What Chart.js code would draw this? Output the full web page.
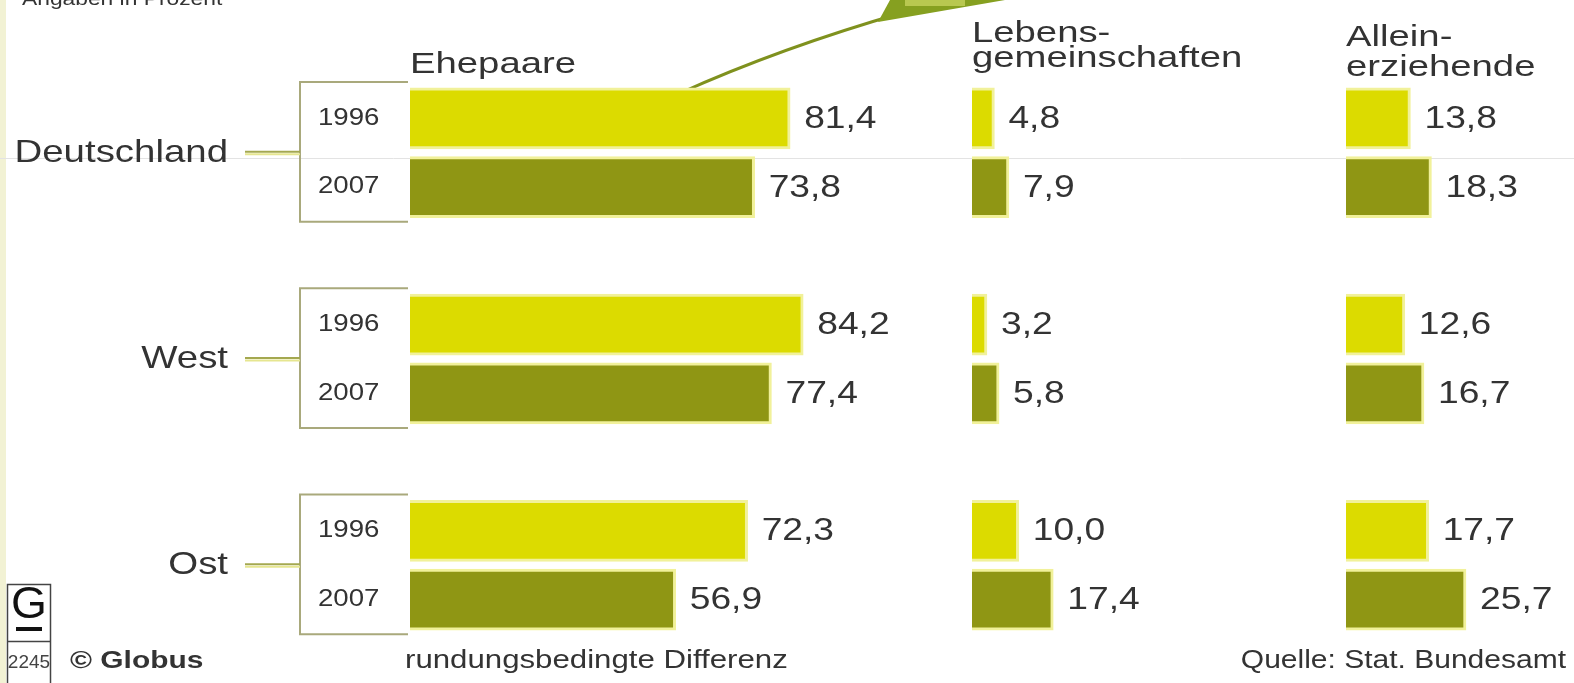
<!DOCTYPE html>
<html>
<head>
<meta charset="utf-8">
<script src="https://cdn.jsdelivr.net/npm/chart.js@4.4.0/dist/chart.umd.min.js"></script>
<style>
  html, body { margin: 0; background: #fff; }
  #wrap { width: 1574px; height: 683px; position: relative; }
</style>
</head>
<body>
<div id="wrap"><canvas id="chart"></canvas></div>
<script>
// rows: year per bar, empty rows are the gaps between the regions
const ROWS = ['1996', '2007', '', '1996', '2007', '', '1996', '2007'];
const REGIONS = ['Deutschland', 'West', 'Ost'];
const EHEPAARE = [81.4, 73.8, null, 84.2, 77.4, null, 72.3, 56.9];
const LEBENSGEMEINSCHAFTEN = [4.8, 7.9, null, 3.2, 5.8, null, 10.0, 17.4];
const ALLEINERZIEHENDE = [13.8, 18.3, null, 12.6, 16.7, null, 17.7, 25.7];
const HEADERS = [['Ehepaare'], ['Lebens-', 'gemeinschaften'], ['Allein-', 'erziehende']];

const YELLOW = '#dcdb00';
const OLIVE = '#8f9614';
const WIDTH = 1574;
const PANEL_X = [410, 972, 1346];   // pixel where each panel's bars start
const PX_PER_UNIT = 4.67;
const STRETCH = 1.2;                // the original lettering is set wide
const FONT = '"Liberation Sans", Arial, sans-serif';

function text(ctx, str, x, y, size, opts = {}) {
  ctx.save();
  ctx.font = (opts.bold ? 'bold ' : '') + size + 'px ' + FONT;
  ctx.fillStyle = opts.color || '#333';
  ctx.textBaseline = opts.baseline || 'middle';
  ctx.textAlign = opts.align || 'left';
  ctx.translate(x, y);
  ctx.scale(opts.stretch || STRETCH, 1);
  ctx.fillText(str, 0, 0);
  ctx.restore();
}

function fmt(v) {
  return v.toFixed(1).replace('.', ',');
}

const rowColors = ROWS.map(r => r === '1996' ? YELLOW : OLIVE);

function panelScale(i) {
  return {
    type: 'linear',
    display: false,
    min: -PANEL_X[i] / PX_PER_UNIT,
    max: (WIDTH - PANEL_X[i]) / PX_PER_UNIT
  };
}

const decorations = {
  id: 'decorations',
  beforeDraw(chart) {
    const ctx = chart.ctx;
    const y = chart.scales.y;
    ctx.save();
    ctx.fillStyle = '#fff';
    ctx.fillRect(0, 0, chart.width, chart.height);
    ctx.fillStyle = '#f2f2d4';
    ctx.fillRect(0, 0, 6, chart.height);

    ctx.strokeStyle = '#e3e3e3';
    ctx.lineWidth = 1;
    ctx.beginPath();
    ctx.moveTo(0, 158.5);
    ctx.lineTo(chart.width, 158.5);
    ctx.stroke();

    // year brackets and region connectors
    REGIONS.forEach((region, g) => {
      const y0 = y.getPixelForValue(g * 3);
      const y1 = y.getPixelForValue(g * 3 + 1);
      const top = y0 - 36.5;
      const bottom = y1 + 34.5;
      const mid = (y0 + y1) / 2;
      ctx.strokeStyle = '#a9a97c';
      ctx.lineWidth = 2;
      ctx.beginPath();
      ctx.moveTo(408, top);
      ctx.lineTo(300, top);
      ctx.lineTo(300, bottom);
      ctx.lineTo(408, bottom);
      ctx.stroke();
      ctx.strokeStyle = '#a4a850';
      ctx.beginPath();
      ctx.moveTo(245, mid - 1);
      ctx.lineTo(300, mid - 1);
      ctx.stroke();
      ctx.strokeStyle = '#e6e690';
      ctx.beginPath();
      ctx.moveTo(245, mid + 1.5);
      ctx.lineTo(300, mid + 1.5);
      ctx.stroke();
    });

    // pointer line and banner at the top
    ctx.strokeStyle = '#7f911e';
    ctx.lineWidth = 3;
    ctx.beginPath();
    ctx.moveTo(678, 94);
    ctx.quadraticCurveTo(780, 48, 905, 12);
    ctx.stroke();
    ctx.fillStyle = '#86a020';
    ctx.beginPath();
    ctx.moveTo(878, 22);
    ctx.lineTo(1005, 0);
    ctx.lineTo(890, 0);
    ctx.closePath();
    ctx.fill();
    ctx.fillStyle = '#b8c850';
    ctx.fillRect(905, 0, 60, 6);
    ctx.restore();
  },
  afterDatasetsDraw(chart) {
    const ctx = chart.ctx;
    const y = chart.scales.y;

    text(ctx, 'Angaben in Prozent', 22, 5, 19, { baseline: 'alphabetic' });

    HEADERS.forEach((lines, i) => {
      const bases = lines.length === 1 ? [73] : (i === 1 ? [42, 67] : [46, 76]);
      lines.forEach((l, k) => text(ctx, l, PANEL_X[i], bases[k], 29, { baseline: 'alphabetic', stretch: 1.32 }));
    });

    REGIONS.forEach((region, g) => {
      const mid = (y.getPixelForValue(g * 3) + y.getPixelForValue(g * 3 + 1)) / 2;
      text(ctx, region, 228, mid, 32, { align: 'right' });
    });

    ROWS.forEach((r, i) => {
      if (r) text(ctx, r, 318, y.getPixelForValue(i), 23);
    });

    chart.data.datasets.forEach((ds, d) => {
      const meta = chart.getDatasetMeta(d);
      meta.data.forEach((bar, i) => {
        const v = ds.data[i];
        if (v == null) return;
        text(ctx, fmt(v), bar.x + 14, bar.y + 1, 31);
      });
    });

    // footer
    text(ctx, '\u00a9 Globus', 70, 668, 23, { bold: true, baseline: 'alphabetic', stretch: 1.3 });
    text(ctx, 'rundungsbedingte Differenz', 405, 668, 26, { baseline: 'alphabetic' });
    text(ctx, 'Quelle: Stat. Bundesamt', 1566, 668, 25, { baseline: 'alphabetic', align: 'right' });

    // Globus logo
    ctx.save();
    ctx.strokeStyle = '#444';
    ctx.lineWidth = 1.5;
    ctx.strokeRect(7.5, 584.5, 43, 100);
    ctx.beginPath();
    ctx.moveTo(7.5, 641.5);
    ctx.lineTo(50.5, 641.5);
    ctx.stroke();
    ctx.fillStyle = '#111';
    ctx.fillRect(16, 627, 26, 4);
    ctx.restore();
    text(ctx, 'G', 29, 606, 44, { align: 'center', stretch: 1.05, color: '#111' });
    text(ctx, '2245', 29, 663, 19, { align: 'center', stretch: 1, color: '#444' });
  }
};

function dataset(label, data, axis) {
  return {
    label,
    data,
    xAxisID: axis,
    backgroundColor: rowColors,
    borderColor: '#f1f19a',
    borderWidth: 3,
    borderSkipped: 'start',
    barThickness: 61,
    grouped: false
  };
}

new Chart(document.getElementById('chart'), {
  type: 'bar',
  data: {
    labels: ROWS,
    datasets: [
      dataset('Ehepaare', EHEPAARE, 'x0'),
      dataset('Lebensgemeinschaften', LEBENSGEMEINSCHAFTEN, 'x1'),
      dataset('Alleinerziehende', ALLEINERZIEHENDE, 'x2')
    ]
  },
  options: {
    indexAxis: 'y',
    responsive: true,
    maintainAspectRatio: false,
    animation: false,
    layout: { padding: { top: 84, bottom: 49, left: 0, right: 0 } },
    scales: {
      y: { type: 'category', display: false, offset: true },
      x0: panelScale(0),
      x1: panelScale(1),
      x2: panelScale(2)
    },
    plugins: {
      legend: { display: false },
      tooltip: { enabled: false }
    }
  },
  plugins: [decorations]
});
</script>
</body>
</html>
